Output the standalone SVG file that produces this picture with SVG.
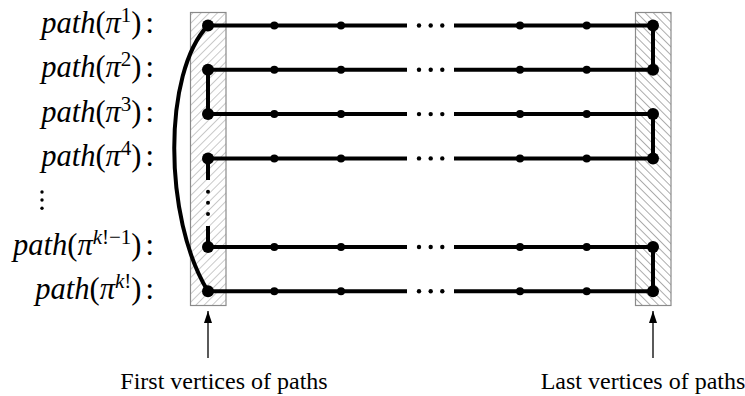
<svg xmlns="http://www.w3.org/2000/svg" width="745" height="396" viewBox="0 0 745 396">
<style>
.lbl{font-family:"Liberation Serif","Times New Roman",serif;font-size:30.5px;fill:#000}
.it{font-style:italic}
.sup{font-size:21px}
.cap{font-family:"Liberation Serif","Times New Roman",serif;font-size:24px;fill:#000;text-anchor:middle}
.edge{stroke:#000;stroke-width:4;fill:none}
.thin{stroke:#000;stroke-width:1.3;fill:none}
.big{fill:#000}
.sm{fill:#000}
.box{stroke:#8a8a8a;stroke-width:1.2}
</style>
<defs>
<pattern id="hatchL" width="5.8" height="5.8" patternUnits="userSpaceOnUse" patternTransform="rotate(45)">
<line x1="0" y1="0" x2="0" y2="5.8" stroke="#666" stroke-width="0.7"/>
</pattern>
<pattern id="hatchR" width="5.8" height="5.8" patternUnits="userSpaceOnUse" patternTransform="rotate(-45)">
<line x1="0" y1="0" x2="0" y2="5.8" stroke="#333" stroke-width="0.8"/>
</pattern>
<marker id="arr" markerWidth="12" markerHeight="8" refX="12" refY="4" orient="auto" markerUnits="userSpaceOnUse">
<path d="M0,0 L12,4 L0,8 Z" fill="#000"/>
</marker>
</defs>

<g id="first-box"><rect class="box" x="190.5" y="12.5" width="35.5" height="293" fill="url(#hatchL)"/></g>
<g id="last-box"><rect class="box" x="635.5" y="12.5" width="35.5" height="293" fill="url(#hatchR)"/></g>

<g id="labels">
<text class="lbl" x="154" y="33" text-anchor="end"><tspan class="it">path</tspan>(<tspan class="it">π</tspan><tspan class="sup" dy="-11">1</tspan><tspan dy="11">)</tspan><tspan dx="4">:</tspan></text>
<text class="lbl" x="154" y="77.3" text-anchor="end"><tspan class="it">path</tspan>(<tspan class="it">π</tspan><tspan class="sup" dy="-11">2</tspan><tspan dy="11">)</tspan><tspan dx="4">:</tspan></text>
<text class="lbl" x="154" y="121.6" text-anchor="end"><tspan class="it">path</tspan>(<tspan class="it">π</tspan><tspan class="sup" dy="-11">3</tspan><tspan dy="11">)</tspan><tspan dx="4">:</tspan></text>
<text class="lbl" x="154" y="165.9" text-anchor="end"><tspan class="it">path</tspan>(<tspan class="it">π</tspan><tspan class="sup" dy="-11">4</tspan><tspan dy="11">)</tspan><tspan dx="4">:</tspan></text>
<text class="lbl" x="154" y="254.5" text-anchor="end"><tspan class="it">path</tspan>(<tspan class="it">π</tspan><tspan class="sup it" dy="-11">k</tspan><tspan class="sup">!−1</tspan><tspan dy="11">)</tspan><tspan dx="4">:</tspan></text>
<text class="lbl" x="154" y="298.8" text-anchor="end"><tspan class="it">path</tspan>(<tspan class="it">π</tspan><tspan class="sup it" dy="-11">k</tspan><tspan class="sup">!</tspan><tspan dy="11">)</tspan><tspan dx="4">:</tspan></text>
<g id="vdots-label"><circle cx="42" cy="192" r="1.7"/><circle cx="42" cy="200" r="1.7"/><circle cx="42" cy="208.3" r="1.7"/></g>
</g>

<g id="connectors">
<path class="edge" d="M208,25.5 L407,25.5 M454,25.5 L653,25.5"/>
<path class="edge" d="M208,69.8 L407,69.8 M454,69.8 L653,69.8"/>
<path class="edge" d="M208,114.1 L407,114.1 M454,114.1 L653,114.1"/>
<path class="edge" d="M208,158.4 L407,158.4 M454,158.4 L653,158.4"/>
<path class="edge" d="M208,247 L407,247 M454,247 L653,247"/>
<path class="edge" d="M208,291.3 L407,291.3 M454,291.3 L653,291.3"/>
<path class="edge" d="M208,69.8 L208,114.1"/>
<path class="edge" d="M208,158.4 L208,180"/>
<path class="edge" d="M208,226 L208,247"/>
<path class="edge" d="M208,25.5 C163,72 163,218 208,291.3"/>
<path class="edge" d="M653,25.5 L653,69.8"/>
<path class="edge" d="M653,114.1 L653,158.4"/>
<path class="edge" d="M653,247 L653,291.3"/>
<path class="thin" d="M208,358 L208,311" marker-end="url(#arr)"/>
<path class="thin" d="M653,358 L653,311" marker-end="url(#arr)"/>
</g>

<g id="vertices">
<g id="row1"><circle class="big" cx="208" cy="25.5" r="6"/><circle class="sm" cx="274.3" cy="25.5" r="4"/><circle class="sm" cx="341" cy="25.5" r="4"/><circle cx="419" cy="25.5" r="2.2"/><circle cx="430.7" cy="25.5" r="2.2"/><circle cx="442.3" cy="25.5" r="2.2"/><circle class="sm" cx="520" cy="25.5" r="4"/><circle class="sm" cx="586.7" cy="25.5" r="4"/><circle class="big" cx="653" cy="25.5" r="6"/></g>
<g id="row2"><circle class="big" cx="208" cy="69.8" r="6"/><circle class="sm" cx="274.3" cy="69.8" r="4"/><circle class="sm" cx="341" cy="69.8" r="4"/><circle cx="419" cy="69.8" r="2.2"/><circle cx="430.7" cy="69.8" r="2.2"/><circle cx="442.3" cy="69.8" r="2.2"/><circle class="sm" cx="520" cy="69.8" r="4"/><circle class="sm" cx="586.7" cy="69.8" r="4"/><circle class="big" cx="653" cy="69.8" r="6"/></g>
<g id="row3"><circle class="big" cx="208" cy="114.1" r="6"/><circle class="sm" cx="274.3" cy="114.1" r="4"/><circle class="sm" cx="341" cy="114.1" r="4"/><circle cx="419" cy="114.1" r="2.2"/><circle cx="430.7" cy="114.1" r="2.2"/><circle cx="442.3" cy="114.1" r="2.2"/><circle class="sm" cx="520" cy="114.1" r="4"/><circle class="sm" cx="586.7" cy="114.1" r="4"/><circle class="big" cx="653" cy="114.1" r="6"/></g>
<g id="row4"><circle class="big" cx="208" cy="158.4" r="6"/><circle class="sm" cx="274.3" cy="158.4" r="4"/><circle class="sm" cx="341" cy="158.4" r="4"/><circle cx="419" cy="158.4" r="2.2"/><circle cx="430.7" cy="158.4" r="2.2"/><circle cx="442.3" cy="158.4" r="2.2"/><circle class="sm" cx="520" cy="158.4" r="4"/><circle class="sm" cx="586.7" cy="158.4" r="4"/><circle class="big" cx="653" cy="158.4" r="6"/></g>
<g id="vdots-col"><circle cx="208" cy="191.7" r="2"/><circle cx="208" cy="202.7" r="2"/><circle cx="208" cy="214" r="2"/></g>
<g id="row5"><circle class="big" cx="208" cy="247" r="6"/><circle class="sm" cx="274.3" cy="247" r="4"/><circle class="sm" cx="341" cy="247" r="4"/><circle cx="419" cy="247" r="2.2"/><circle cx="430.7" cy="247" r="2.2"/><circle cx="442.3" cy="247" r="2.2"/><circle class="sm" cx="520" cy="247" r="4"/><circle class="sm" cx="586.7" cy="247" r="4"/><circle class="big" cx="653" cy="247" r="6"/></g>
<g id="row6"><circle class="big" cx="208" cy="291.3" r="6"/><circle class="sm" cx="274.3" cy="291.3" r="4"/><circle class="sm" cx="341" cy="291.3" r="4"/><circle cx="419" cy="291.3" r="2.2"/><circle cx="430.7" cy="291.3" r="2.2"/><circle cx="442.3" cy="291.3" r="2.2"/><circle class="sm" cx="520" cy="291.3" r="4"/><circle class="sm" cx="586.7" cy="291.3" r="4"/><circle class="big" cx="653" cy="291.3" r="6"/></g>
</g>

<g id="captions">
<text class="cap" x="224" y="389">First vertices of paths</text>
<text class="cap" x="643" y="389">Last vertices of paths</text>
</g>
</svg>
